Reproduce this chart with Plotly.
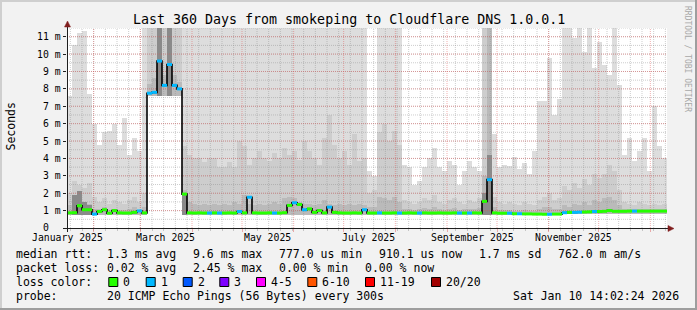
import plotly.graph_objects as go
from datetime import datetime, timedelta

# ---------------- data ----------------
TITLE = "Last 360 Days from smokeping to Cloudflare DNS 1.0.0.1"
Y_TITLE = "Seconds"
WATERMARK = "RRDTOOL / TOBI OETIKER"
START = datetime(2025, 1, 16)
SPAN_DAYS = 360
BIN_DAYS = 3
Y_MAX = 11.5

X_TICK_LABELS = ["January 2025", "March 2025", "May 2025", "July 2025",
                 "September 2025", "November 2025"]
Y_TICK_LABELS = ["0", "1 m", "2 m", "3 m", "4 m", "5 m", "6 m", "7 m", "8 m",
                 "9 m", "10 m", "11 m"]

# median rtt per 3-day bin (ms)
median_ms = [
    0.87, 0.88, 1.28, 1.05, 1.05, 0.80, 0.95, 1.05, 0.85, 1.00,
    0.87, 0.86, 0.86, 0.90, 0.98, 0.87, 7.75, 7.80, 9.60, 8.20,
    9.40, 8.20, 8.00, 1.95, 0.87, 0.86, 0.87, 0.86, 0.86, 0.87,
    0.86, 0.86, 0.87, 0.86, 0.95, 0.87, 1.77, 0.87, 0.86, 0.86,
    0.87, 0.86, 0.86, 0.88, 1.30, 1.45, 1.35, 1.05, 1.10, 0.90,
    1.00, 0.87, 1.20, 0.90, 0.87, 0.86, 0.86, 0.87, 0.86, 1.05,
    0.86, 0.86, 0.87, 0.86, 0.86, 0.87, 0.86, 0.86, 0.87, 0.86,
    0.86, 0.87, 0.86, 0.86, 0.87, 0.86, 0.86, 0.87, 0.86, 0.86,
    0.86, 0.87, 0.86, 1.53, 2.78, 0.87, 0.85, 0.85, 0.85, 0.82,
    0.82, 0.81, 0.81, 0.80, 0.80, 0.79, 0.79, 0.80, 0.80, 0.88,
    0.90, 0.90, 0.91, 0.92, 0.93, 0.95, 0.95, 0.96, 1.00, 0.96,
    0.96, 0.96, 0.97, 0.97, 0.97, 0.97, 0.97, 0.97, 0.97, 0.97,
]

# lost pings (of 20) per bin
loss_count = [
    0, 0, 0, 0, 0, 1, 0, 0, 0, 0,
    0, 0, 0, 0, 1, 0, 1, 1, 1, 1,
    1, 1, 1, 0, 0, 0, 0, 0, 1, 0,
    1, 0, 0, 0, 1, 0, 1, 0, 0, 0,
    0, 1, 0, 0, 0, 1, 0, 1, 0, 0,
    0, 0, 1, 0, 0, 0, 0, 0, 0, 1,
    0, 0, 1, 0, 0, 0, 1, 0, 0, 0,
    1, 0, 0, 0, 0, 0, 0, 0, 1, 0,
    1, 0, 0, 0, 1, 0, 0, 0, 1, 0,
    1, 0, 0, 0, 0, 0, 1, 0, 0, 1,
    0, 1, 1, 0, 0, 1, 0, 0, 0, 0,
    0, 0, 0, 1, 0, 0, 0, 0, 0, 0,
]

# smoke: lowest ping (base of the smoke)
smoke_min_ms = [
    0.76, 0.76, 0.76, 0.76, 0.76, 0.76, 0.76, 0.76, 0.76, 0.76,
    0.76, 0.76, 0.76, 0.76, 0.76, 0.76, 7.6, 7.6, 7.6, 7.6,
    7.6, 7.6, 7.6, 0.76, 0.76, 0.76, 0.76, 0.76, 0.76, 0.76,
    0.76, 0.76, 0.76, 0.76, 0.76, 0.76, 0.76, 0.76, 0.76, 0.76,
    0.76, 0.76, 0.76, 0.76, 0.76, 0.76, 0.76, 0.76, 0.76, 0.76,
    0.76, 0.76, 0.76, 0.76, 0.76, 0.76, 0.76, 0.76, 0.76, 0.76,
    0.76, 0.76, 0.76, 0.76, 0.76, 0.76, 0.76, 0.76, 0.76, 0.76,
    0.76, 0.76, 0.76, 0.76, 0.76, 0.76, 0.76, 0.76, 0.76, 0.76,
    0.76, 0.76, 0.76, 0.76, 0.76, 0.76, 0.76, 0.76, 0.76, 0.72,
    0.72, 0.72, 0.72, 0.72, 0.72, 0.72, 0.72, 0.72, 0.72, 0.82,
    0.82, 0.82, 0.82, 0.82, 0.82, 0.82, 0.82, 0.82, 0.82, 0.82,
    0.82, 0.82, 0.82, 0.82, 0.82, 0.82, 0.82, 0.82, 0.82, 0.82,
]

# smoke: highest ping (outer, lightest smoke)
smoke_max_ms = [
    7.6, 10.5, 11.2, 11.3, 7.7, 6.0, 4.8, 5.5, 5.6, 6.0,
    4.8, 6.3, 4.2, 5.2, 4.4, 12, 12, 12, 12, 12,
    12, 12, 12, 12, 12, 12, 12, 12, 12, 12,
    12, 12, 12, 12, 12, 12, 12, 12, 12, 12,
    12, 12, 12, 12, 12, 12, 12, 12, 12, 12,
    12, 12, 12, 12, 12, 12, 12, 12, 12, 12,
    3.3, 3.0, 12, 12, 12, 12, 12, 3.65, 3.5, 2.5,
    2.7, 3.5, 4.0, 4.6, 3.5, 3.3, 3.85, 3.65, 2.5, 3.3,
    3.85, 3.5, 3.3, 12, 12, 5.4, 3.5, 3.65, 3.55, 4.1,
    3.4, 3.75, 3.1, 4.4, 7.3, 7.3, 9.8, 6.5, 7.4, 12,
    12, 10.9, 12, 10.1, 12, 9.2, 10.7, 9.4, 8.8, 12,
    8.2, 4.2, 5.2, 3.85, 4.4, 5.2, 3.3, 7.0, 4.7, 4.0,
]

# smoke: upper mid percentile
smoke_mid_ms = [
    2.0, 2.7, 2.5, 2.3, 2.6, 1.8, 1.5, 1.7, 1.4, 1.6,
    1.5, 1.4, 1.6, 1.8, 1.5, 2.0, 12, 12, 12, 12,
    12, 12, 12, 4.7, 4.2, 4.0, 4.0, 3.8, 4.0, 4.0,
    3.5, 3.5, 3.8, 3.5, 5.0, 4.7, 3.65, 4.0, 4.4, 4.0,
    3.85, 4.3, 4.0, 4.6, 4.2, 4.4, 3.9, 5.0, 4.4, 4.0,
    3.6, 5.2, 6.5, 4.8, 4.0, 4.4, 3.65, 5.4, 3.85, 4.0,
    2.0, 2.2, 5.5, 6.0, 5.0, 5.6, 4.8, 1.6, 1.5, 1.4,
    1.5, 1.7, 1.6, 1.9, 1.5, 1.4, 1.6, 1.7, 1.5, 1.4,
    1.6, 1.5, 1.7, 12, 12, 1.8, 1.5, 1.4, 1.5, 1.4,
    1.3, 1.5, 1.4, 1.3, 1.6, 1.8, 2.0, 1.6, 1.7, 2.4,
    2.2, 2.6, 2.3, 2.8, 2.5, 3.1, 2.9, 3.1, 3.6, 3.3,
    2.2, 1.5, 1.4, 1.3, 1.5, 1.4, 1.3, 1.4, 1.3, 1.4,
]

# smoke: inner percentile (darker)
smoke_dark_ms = [
    1.3, 1.6, 2.0, 1.5, 1.4, 1.1, 1.1, 1.2, 1.05, 1.1,
    1.05, 1.05, 1.1, 1.2, 1.05, 1.2, 8.3, 8.6, 10.5, 8.8,
    10.5, 8.8, 8.4, 2.2, 1.5, 1.4, 1.3, 1.4, 1.3, 1.4,
    1.3, 1.4, 1.3, 1.5, 1.4, 1.9, 1.4, 1.3, 1.4, 1.3,
    1.4, 1.5, 1.4, 1.7, 1.8, 1.7, 1.5, 1.4, 1.4, 1.3,
    1.4, 1.6, 1.4, 1.3, 1.4, 1.3, 1.4, 1.3, 1.4, 1.3,
    1.2, 1.2, 1.8, 1.7, 1.6, 1.8, 1.5, 1.1, 1.1, 1.05,
    1.1, 1.15, 1.1, 1.2, 1.1, 1.05, 1.1, 1.15, 1.05, 1.1,
    1.1, 1.1, 1.15, 3.0, 12, 1.2, 1.05, 1.05, 1.05, 1.0,
    1.0, 1.05, 1.0, 1.0, 1.1, 1.2, 1.2, 1.1, 1.1, 1.3,
    1.2, 1.4, 1.3, 1.5, 1.3, 1.6, 1.5, 1.7, 1.8, 1.6,
    1.3, 1.1, 1.1, 1.1, 1.1, 1.1, 1.1, 1.1, 1.1, 1.1,
]

# smoke: densest core near median (0 = none)
smoke_core_ms = [
    0, 1.9, 2.1, 1.5, 1.3, 0, 0, 0, 0, 0,
    0, 0, 0, 0, 0, 0, 0, 0, 11.5, 0,
    11.5, 0, 0, 2.0, 0, 0, 0, 0, 0, 0,
    0, 0, 0, 0, 0, 0, 0, 0, 0, 0,
    0, 0, 0, 0, 0, 0, 0, 0, 0, 0,
    0, 0, 0, 0, 0, 0, 0, 0, 0, 0,
    0, 0, 0, 0, 0, 0, 0, 0, 0, 0,
    0, 0, 0, 0, 0, 0, 0, 0, 0, 0,
    0, 0, 0, 2.0, 4.2, 0, 0, 0, 0, 0,
    0, 0, 0, 0, 0, 0, 0, 0, 0, 0,
    0, 0, 0, 0, 0, 0, 0, 0, 0, 0,
    0, 0, 0, 0, 0, 0, 0, 0, 0, 0,
]

LOSS_LABELS = ["0", "1", "2", "3", "4-5", "6-10", "11-19", "20/20"]
LOSS_UPPER = [0, 1, 2, 3, 5, 10, 19, 20]
LOSS_COLORS = ["#26ff00", "#00b8ff", "#0059ff", "#7e00ff", "#ff00ff",
               "#ff5500", "#ff0000", "#a10000"]

STATS_MEDIAN = ["median rtt:", "1.3 ms avg", "9.6 ms max", "777.0 us min",
                "910.1 us now", "1.7 ms sd", "762.0 m am/s"]
STATS_LOSS = ["packet loss:", "0.02 % avg", "2.45 % max", "0.00 % min",
              "0.00 % now"]
LOSS_TITLE = "loss color:"
PROBE = ["probe:", "20 ICMP Echo Pings (56 Bytes) every 300s",
         "Sat Jan 10 14:02:24 2026"]

# ---------------- layout constants ----------------
W, H = 697, 310
PL, PR, PT, PB = 67, 667, 28, 228          # plot area in pixels
FONT = "DejaVu Sans Mono, monospace"
C_BACK = "#f2f2f2"
C_SHADEA = "#cfcfcf"
C_SHADEB = "#9e9e9e"
C_GRID = "rgba(143,143,143,0.45)"
C_MGRID = "rgba(222,79,79,0.45)"
C_ARROW = "#801f1f"
C_AXIS = "#1f1f1f"
SMOKE_COLORS = ["#dddddd", "#cdcdcd", "#bababa", "#8a8a8a"]


def px(x):
    return (x - PL) / (PR - PL)


def py(y):
    return (PB - y) / (PB - PT)


END = START + timedelta(days=SPAN_DAYS)
n = len(median_ms)
edges = [START + timedelta(days=BIN_DAYS * i) for i in range(n + 1)]
centers = [START + timedelta(days=BIN_DAYS * i + BIN_DAYS / 2) for i in range(n)]
BAR_W = BIN_DAYS * 86400000

fig = go.Figure()


def smoke_bar(top, color):
    fig.add_trace(go.Bar(
        x=centers, base=smoke_min_ms,
        y=[max(t - b, 0) for t, b in zip(top, smoke_min_ms)],
        width=BAR_W, marker=dict(color=color, line=dict(width=0)),
        hoverinfo="skip", showlegend=False))


for layer, col in zip([smoke_max_ms, smoke_mid_ms, smoke_dark_ms, smoke_core_ms],
                      SMOKE_COLORS):
    smoke_bar(layer, col)

# ---- grid (drawn above smoke, below median) ----
weeks = []
d = datetime(2025, 1, 18)
while d < END:
    weeks.append(d)
    d += timedelta(days=7)
months = []
y_, m_ = 2025, 2
while datetime(y_, m_, 1) < END:
    months.append(datetime(y_, m_, 1))
    m_ += 1
    if m_ > 12:
        m_, y_ = 1, y_ + 1


def vgrid(dates):
    xs, ys = [], []
    for dd in dates:
        xs += [dd, dd, None]
        ys += [0, Y_MAX, None]
    return xs, ys


def hgrid(vals):
    xs, ys = [], []
    for v in vals:
        xs += [START, END, None]
        ys += [v, v, None]
    return xs, ys


for (xs, ys), col in [
    (vgrid(weeks), C_GRID),
    (hgrid([k * 0.5 for k in range(1, int(Y_MAX * 2) + 1)]), C_GRID),
    (vgrid(months), C_MGRID),
    (hgrid(list(range(1, int(Y_MAX) + 1))), C_MGRID),
]:
    fig.add_trace(go.Scatter(x=xs, y=ys, mode="lines",
                             line=dict(color=col, width=1, dash="1px,1px"),
                             hoverinfo="skip", showlegend=False))

# ---- median line ----
fig.add_trace(go.Scatter(
    x=edges, y=median_ms + [median_ms[-1]], mode="lines",
    line=dict(color="#000000", width=1.6, shape="hv"),
    hoverinfo="skip", showlegend=False))


def loss_color(c):
    for up, col in zip(LOSS_UPPER, LOSS_COLORS):
        if c <= up:
            return col
    return LOSS_COLORS[-1]


segs = {}
for i, (m, l) in enumerate(zip(median_ms, loss_count)):
    xs, ys = segs.setdefault(loss_color(l), ([], []))
    xs += [edges[i], edges[i + 1], None]
    ys += [m, m, None]
for col, (xs, ys) in segs.items():
    fig.add_trace(go.Scatter(x=xs, y=ys, mode="lines",
                             line=dict(color=col, width=3),
                             hoverinfo="skip", showlegend=False))

# ---------------- annotations ----------------
ann = []


def text(x, y, s, size=11.5, xanchor="left", color="#000000", angle=0,
         xref="paper", yref="paper"):
    ann.append(dict(x=x, y=y, xref=xref, yref=yref, text=s.replace(" ", "\u00a0"),
                    showarrow=False, xanchor=xanchor, yanchor="middle",
                    textangle=angle, borderpad=0, borderwidth=0,
                    font=dict(family=FONT, size=size, color=color)))


text(px(348.5), py(19), TITLE, size=13.3, xanchor="center")
text(px(10.5), py(127), Y_TITLE, size=11.5, xanchor="center", angle=-90)
text(px(688), py(59), WATERMARK, size=8, xanchor="center", angle=90,
     color="#a8a8a8")

for lab in X_TICK_LABELS:
    dt = datetime.strptime(lab, "%B %Y") + timedelta(days=15)
    text(dt, py(237.8), lab, size=9.8, xanchor="center", xref="x")
for k, lab in enumerate(Y_TICK_LABELS):
    s = lab if " " in lab else lab + "  "
    text(px(60.5), k + (0.03 if k == 0 else 0), s, size=9.8, xanchor="right",
         yref="y")

for s, x in zip(STATS_MEDIAN, [16, 107.3, 193.3, 279.3, 379.3, 479, 558.3]):
    text(px(x), py(254.3), s)
for s, x in zip(STATS_LOSS, [16, 107.3, 193.3, 279.3, 365]):
    text(px(x), py(268.3), s)
text(px(16), py(282.3), LOSS_TITLE)
box_x = [108.3, 145.7, 182.7, 219.3, 256, 307.3, 365, 431]
shapes = []
for lab, col, bx in zip(LOSS_LABELS, LOSS_COLORS, box_x):
    shapes.append(dict(type="rect", xref="paper", yref="paper",
                       x0=px(bx + 0.5), x1=px(bx + 9.5), y0=py(286.5), y1=py(277.5),
                       fillcolor=col, line=dict(color="#000000", width=1),
                       layer="above"))
    text(px(bx + 15), py(282.3), lab)
for s, x in zip(PROBE, [16, 107.3, 513.3]):
    text(px(x), py(296.3), s)

# ---------------- frame, axes, arrows ----------------
def rect(x0, y0, x1, y1, col):
    shapes.append(dict(type="rect", xref="paper", yref="paper",
                       x0=px(x0), x1=px(x1), y0=py(y1), y1=py(y0),
                       fillcolor=col, line=dict(width=0), layer="above"))


rect(0, 0, W, 2, C_SHADEA)
rect(0, 0, 2, H, C_SHADEA)
rect(0, H - 2, W, H, C_SHADEB)
rect(W - 2, 0, W, H, C_SHADEB)

shapes.append(dict(type="line", xref="paper", yref="paper",
                   x0=px(63), x1=px(670), y0=py(228.5), y1=py(228.5),
                   line=dict(color=C_AXIS, width=1), layer="above"))
shapes.append(dict(type="line", xref="paper", yref="paper",
                   x0=px(67.5), x1=px(67.5), y0=py(232), y1=py(25),
                   line=dict(color=C_AXIS, width=1), layer="above"))


def tri(pts):
    p = "M " + " L ".join(f"{px(a)},{py(b)}" for a, b in pts) + " Z"
    shapes.append(dict(type="path", xref="paper", yref="paper", path=p,
                       fillcolor=C_ARROW, line=dict(color=C_ARROW, width=0.5),
                       layer="above"))


tri([(668, 225.5), (674, 228.5), (668, 231.5)])
tri([(64.5, 27), (67.5, 21), (70.5, 27)])

fig.update_layout(
    width=W, height=H, autosize=False,
    margin=dict(l=PL, r=W - PR, t=PT, b=H - PB, pad=0),
    paper_bgcolor=C_BACK, plot_bgcolor="#ffffff",
    barmode="overlay", bargap=0, showlegend=False,
    annotations=ann, shapes=shapes,
    xaxis=dict(type="date", range=[START, END], showgrid=False,
               zeroline=False, showline=False, showticklabels=False,
               tickmode="array", tickvals=months, ticks="outside",
               ticklen=3, tickcolor=C_MGRID, tickwidth=1,
               minor=dict(tickmode="array", tickvals=weeks, ticks="outside",
                          ticklen=2, tickcolor=C_GRID, showgrid=False),
               fixedrange=True),
    yaxis=dict(range=[0, Y_MAX], showgrid=False, zeroline=False,
               showline=False, showticklabels=False, tickmode="array",
               tickvals=list(range(len(Y_TICK_LABELS))), ticks="outside",
               ticklen=3, tickcolor=C_AXIS, fixedrange=True),
)

fig.write_html("out.html", config={"displayModeBar": False})
